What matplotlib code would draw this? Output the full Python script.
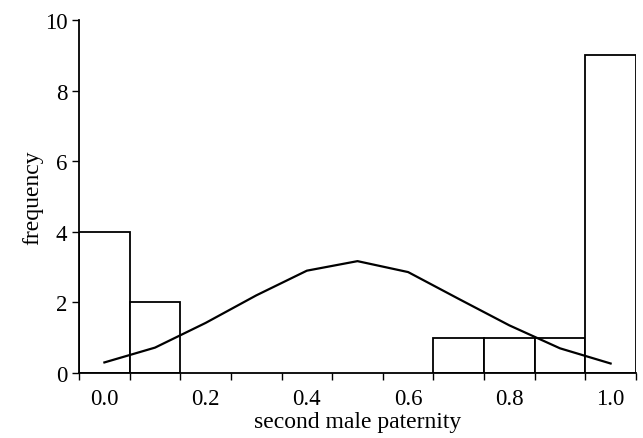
import numpy as np
import matplotlib.pyplot as plt

plt.rcParams['font.family'] = ['Liberation Serif', 'DejaVu Serif']

# histogram: bin centres and counts
bin_centers = [0.0, 0.1, 0.7, 0.8, 0.9, 1.0]
counts = [4, 2, 1, 1, 1, 9]
bin_width = 0.1

# fitted curve
curve_x = [0.0, 0.1, 0.2, 0.3, 0.4, 0.5, 0.6, 0.7, 0.8, 0.9, 1.0]
curve_y = [0.3, 0.72, 1.42, 2.2, 2.9, 3.17, 2.86, 2.1, 1.35, 0.7, 0.27]

x_labels = ['0.0', '0.2', '0.4', '0.6', '0.8', '1.0']

fig = plt.figure(figsize=(6.43, 4.39), dpi=100)
ax = fig.add_axes([0.123, 0.148, 0.866, 0.804])

ax.bar(bin_centers, counts, width=bin_width, facecolor='white',
       edgecolor='black', linewidth=1.3)
ax.plot(curve_x, curve_y, color='black', linewidth=1.6)

ax.set_xlim(-0.05, 1.05)
ax.set_ylim(0, 10)
edges = np.round(np.arange(-0.05, 1.06, 0.1), 2)
ax.set_xticks(edges)
ax.set_xticklabels([])
ax.set_xticks([float(v) for v in x_labels], minor=True)
ax.set_xticklabels(x_labels, minor=True)
ax.tick_params(axis='x', which='minor', length=0, labelsize=16.5, pad=11)
ax.tick_params(axis='x', which='major', length=5, width=1)
ax.set_yticks([0, 2, 4, 6, 8, 10])
ax.tick_params(axis='y', length=5, width=1, labelsize=16.5)

for s in ['top', 'right']:
    ax.spines[s].set_visible(False)
for s in ['left', 'bottom']:
    ax.spines[s].set_linewidth(1.3)

ax.set_xlabel('second male paternity', fontsize=17, labelpad=1)
ax.set_ylabel('frequency', fontsize=17, labelpad=1)

fig.savefig('out.png', dpi=100)
